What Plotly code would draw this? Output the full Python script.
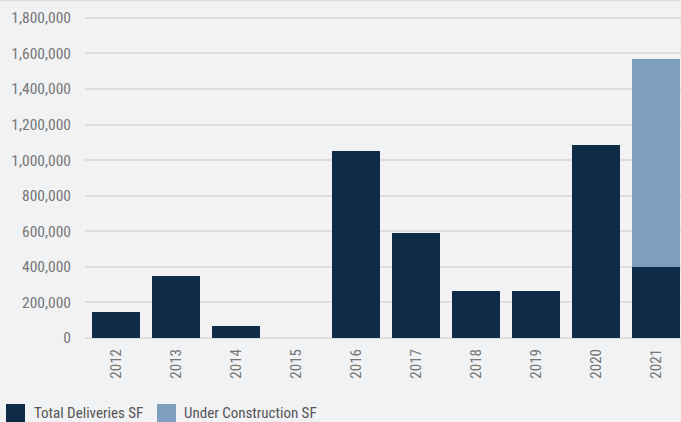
import plotly.graph_objects as go

# Annual industrial deliveries and current construction pipeline (square feet)
years = ["2012", "2013", "2014", "2015", "2016", "2017", "2018", "2019", "2020", "2021"]
total_deliveries = [145000, 350000, 66000, 0, 1050000, 590000, 266000, 266000, 1084000, 400000]
under_construction = [0, 0, 0, 0, 0, 0, 0, 0, 0, 1171000]

series_names = ["Total Deliveries SF", "Under Construction SF"]
dark = "#0e2b47"
light = "#7d9fbd"
bg = "#f1f2f4"
grid = "#dcdde0"
text_col = "#767676"
font_family = "Liberation Sans Narrow, Roboto Condensed, Arial Narrow, Roboto, sans-serif"

W, H = 681, 422
ML, MR, MT, MB = 85, 0, 0, 84
PW, PH = W - ML - MR, H - MT - MB


def px_x(x):
    return (x - ML) / PW


def px_y(y):
    return (H - MB - y) / PH


fig = go.Figure()
fig.add_trace(go.Bar(x=years, y=total_deliveries, name=series_names[0],
                     marker=dict(color=dark, line=dict(width=0)), width=0.8))
fig.add_trace(go.Bar(x=years, y=under_construction, name=series_names[1],
                     marker=dict(color=light, line=dict(width=0)), width=0.8))

fig.update_layout(
    width=W, height=H,
    barmode="stack",
    paper_bgcolor=bg, plot_bgcolor=bg,
    margin=dict(l=ML, r=MR, t=MT, b=MB),
    showlegend=False,
    font=dict(family=font_family, size=15, color=text_col),
    xaxis=dict(
        type="category", range=[-0.517, 9.417],
        tickangle=-90, showgrid=False, zeroline=False, showline=False,
        ticks="", ticklabelstandoff=7,
        tickfont=dict(family=font_family, size=15, color=text_col),
    ),
    yaxis=dict(
        range=[0, 1900000], dtick=200000, tick0=0, tickformat=",",
        showgrid=True, gridcolor=grid, gridwidth=1.5,
        zeroline=True, zerolinecolor=grid, zerolinewidth=1.5,
        showline=False, ticks="", ticklabelstandoff=13,
        tickfont=dict(family=font_family, size=15.5, color=text_col),
    ),
)

# thin rule along the top edge
fig.add_shape(type="line", xref="paper", yref="paper",
              x0=px_x(0), x1=px_x(W), y0=px_y(0.5), y1=px_y(0.5),
              line=dict(color=grid, width=1.5), layer="below")

# legend drawn below the axis
legend_items = [(6, 32, dark, series_names[0]), (157, 182, light, series_names[1])]
for sq_x, tx, col, label in legend_items:
    fig.add_shape(type="rect", xref="paper", yref="paper",
                  x0=px_x(sq_x), x1=px_x(sq_x + 19), y0=px_y(404), y1=px_y(424),
                  fillcolor=col, line=dict(width=0))
    fig.add_annotation(xref="paper", yref="paper", x=px_x(tx), y=px_y(413),
                       xanchor="left", yanchor="middle", showarrow=False,
                       text=label, font=dict(family=font_family, size=15, color="#555555"))

fig.write_html("out.html")
